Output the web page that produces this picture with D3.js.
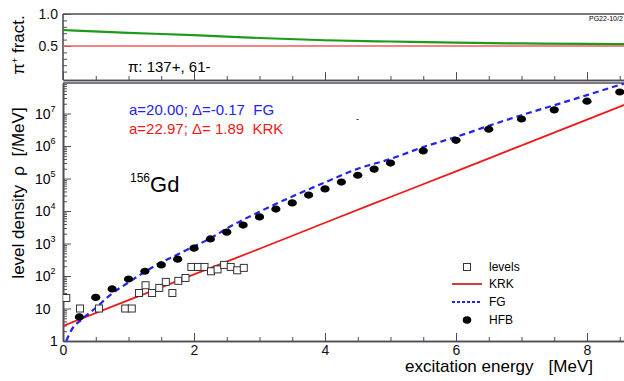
<!DOCTYPE html>
<html>
<head>
<meta charset="utf-8">
<script src="https://cdn.jsdelivr.net/npm/d3@7"></script>
<style>
  body { margin: 0; background: #fff; }
  svg { display: block; font-family: "Liberation Sans", Arial, sans-serif; }
  .axis path, .axis line { stroke: #4e4e5a; }
  .axis path { stroke-width: 1.6; }
  .axis line { stroke-width: 1; }
  .axis text { font-family: "Liberation Sans", Arial, sans-serif; fill: #111; }
</style>
</head>
<body>
<div id="chart"></div>
<script>
// top panel: pi+ fraction vs excitation energy
var fracE = [0, 1, 2, 3, 4, 5, 6, 7, 8, 9];
var fracPlus = [0.75, 0.705, 0.67, 0.625, 0.59, 0.57, 0.552, 0.54, 0.532, 0.525];
var fracHalfE = [0, 9];
var fracHalf = [0.5, 0.5];

// levels (squares)
var levelsE = [0.05, 0.26, 0.55, 0.95, 1.05, 1.16, 1.26, 1.36, 1.47, 1.57, 1.67, 1.76, 1.87,
    1.96, 2.06, 2.16, 2.26, 2.36, 2.46, 2.56, 2.66, 2.76];
var levelsRho = [21, 10, 10, 10, 10, 30, 52, 30, 43, 66, 30, 71, 87,
    190, 190, 190, 140, 160, 220, 190, 150, 178];

// HFB (dots)
var hfbE = [0.25, 0.5, 0.75, 1.0, 1.25, 1.5, 1.75, 2.0, 2.25, 2.5, 2.75, 3.0, 3.25, 3.5, 3.75,
    4.0, 4.25, 4.5, 4.75, 5.0, 5.5, 6.0, 6.5, 7.0, 7.5, 8.0, 8.5];
var hfbRho = [5.5, 22, 40, 81, 140, 220, 330, 720, 1380, 2240, 3700, 6600, 11500, 17800, 31000,
    48000, 78000, 126000, 195000, 300000, 710000, 1.5e6, 3.3e6, 6.8e6, 1.3e7, 2.4e7, 4.6e7];

// KRK (solid red)
var krkE = [0, 1, 2, 3, 4, 5, 6, 7, 8, 9];
var krkRho = [2.9, 18, 112, 690, 4350, 27000, 167000, 1.04e6, 6.5e6, 4.1e7];

// FG (dashed blue)
var fgE = [0.05, 0.13, 0.28, 0.49, 0.72, 0.98, 1.22, 1.48, 1.74, 1.99, 2.29, 2.5, 3.0, 3.5,
    4.0, 4.5, 5.0, 5.5, 6.0, 6.5, 7.0, 7.5, 8.0, 8.5, 9.0];
var fgRho = [1.0, 2.2, 4.5, 10, 26, 60, 123, 250, 450, 800, 1600, 2900, 9500, 28000,
    76000, 200000, 400000, 930000, 1.9e6, 4.2e6, 8.9e6, 1.8e7, 3.7e7, 7.6e7, 1.5e8];

var decades = [1, 10, 100, 1e3, 1e4, 1e5, 1e6, 1e7];
var xMajor = [0, 2, 4, 6, 8];

var svgWidth = 624;
var svgHeight = 381;

var svg = d3.select("#chart")
    .append("svg")
    .attr("width", svgWidth)
    .attr("height", svgHeight);

//scales (x range runs past the right edge, the picture is cut there)
var x = d3.scaleLinear().domain([0, 9]).range([63, 652.5]);
var yTop = d3.scaleLinear().domain([0, 1]).range([78, 14]);
var yLog = d3.scaleLog().domain([1, Math.pow(10, 7.94)]).range([341, 83]);

var xMinor = d3.range(0, 9.01, 0.5).filter(d => d % 2 !== 0);
var logMinor = [];
for (var p = 0; p < 8; p++) {
    for (var m = 2; m < 10; m++) {
        var v = m * Math.pow(10, p);
        if (v < Math.pow(10, 7.94)) logMinor.push(v);
    }
}

// ---------- top panel ----------
var topPanel = svg.append("g");

//frame top line
topPanel.append("line")
    .attr("x1", 63).attr("x2", svgWidth)
    .attr("y1", 14).attr("y2", 14)
    .attr("stroke", "#4e4e5a").attr("stroke-width", 1.6);

topPanel.append("g").attr("class", "axis")
    .attr("transform", "translate(0,80)")
    .call(d3.axisBottom(x).tickValues(xMinor).tickSize(-4).tickSizeOuter(0).tickFormat(""));
topPanel.append("g").attr("class", "axis")
    .attr("transform", "translate(0,80)")
    .call(d3.axisBottom(x).tickValues(xMajor).tickSize(-8).tickSizeOuter(0).tickFormat(""));

var topMinor = d3.range(0.1, 1.001, 0.1).filter(d => Math.abs(d - 0.5) > 0.01 && Math.abs(d - 1) > 0.01);
topPanel.append("g").attr("class", "axis")
    .attr("transform", "translate(63,0)")
    .call(d3.axisLeft(yTop).tickValues(topMinor).tickSize(-4).tickSizeOuter(0).tickFormat(""))
    .select(".domain").remove();
topPanel.append("g").attr("class", "axis")
    .attr("transform", "translate(63,0)")
    .call(d3.axisLeft(yTop).tickValues([0.5, 1.0]).tickSize(-8).tickSizeOuter(0)
        .tickPadding(5).tickFormat(d3.format(".1f")))
    .call(g => g.select(".domain").attr("d", "M0,80V14"))
    .selectAll("text").style("font-size", "14px");

var topLine = d3.line()
    .x(d => x(d[0]))
    .y(d => yTop(d[1]))
    .curve(d3.curveMonotoneX);

topPanel.append("path")
    .datum(d3.zip(fracHalfE, fracHalf))
    .attr("d", topLine)
    .attr("fill", "none")
    .attr("stroke", "#f25a5a")
    .attr("stroke-width", 1.6);

topPanel.append("path")
    .datum(d3.zip(fracE, fracPlus))
    .attr("d", topLine)
    .attr("fill", "none")
    .attr("stroke", "#1c9a1c")
    .attr("stroke-width", 2.2);

topPanel.append("text")
    .attr("x", 128).attr("y", 72)
    .style("font-size", "15px")
    .text("π: 137+, 61-");

topPanel.append("text")
    .attr("x", 589).attr("y", 21)
    .style("font-size", "7px")
    .text("PG22-10/2");

topPanel.append("text")
    .attr("transform", "translate(24,45) rotate(-90)")
    .attr("text-anchor", "middle")
    .style("font-size", "17px")
    .html('π<tspan dy="-6" font-size="9px">+</tspan><tspan dy="6"> fract.</tspan>');

// ---------- bottom panel ----------
var bot = svg.append("g");

bot.append("line")
    .attr("x1", 63).attr("x2", svgWidth)
    .attr("y1", 83).attr("y2", 83)
    .attr("stroke", "#4e4e5a").attr("stroke-width", 1.4);

bot.append("g").attr("class", "axis")
    .attr("transform", "translate(0,341)")
    .call(d3.axisBottom(x).tickValues(xMinor).tickSize(-4).tickSizeOuter(0).tickFormat(""));
bot.append("g").attr("class", "axis")
    .attr("transform", "translate(0,341)")
    .call(d3.axisBottom(x).tickValues(xMajor).tickSize(-8).tickSizeOuter(0).tickPadding(4).tickFormat(d3.format("d")))
    .selectAll("text").style("font-size", "14px");

bot.append("g").attr("class", "axis")
    .attr("transform", "translate(63,0)")
    .call(d3.axisLeft(yLog).tickValues(logMinor).tickSize(-4).tickSizeOuter(0).tickFormat(""));
bot.append("g").attr("class", "axis")
    .attr("transform", "translate(63,0)")
    .call(d3.axisLeft(yLog).tickValues(decades).tickSize(-8).tickSizeOuter(0).tickFormat(""));

//log tick labels with superscripts
bot.selectAll(".ylab")
    .data(decades)
    .enter()
    .append("text")
    .attr("class", "ylab")
    .attr("x", d => d === 1 ? 50 : 35)
    .attr("y", d => yLog(d) + 5)
    .style("font-size", "14px")
    .html(function(d) {
        var n = Math.round(Math.log10(d));
        if (n === 0) return "1";
        if (n === 1) return "10";
        return '10<tspan dy="-7" font-size="9px">' + n + '</tspan>';
    });

svg.append("clipPath").attr("id", "clipBot")
    .append("rect")
    .attr("x", 63).attr("y", 83)
    .attr("width", svgWidth - 63).attr("height", 341 - 83);

var plot = bot.append("g").attr("clip-path", "url(#clipBot)");

var logLine = d3.line()
    .x(d => x(d[0]))
    .y(d => yLog(d[1]))
    .curve(d3.curveMonotoneX);

plot.append("path")
    .datum(d3.zip(krkE, krkRho))
    .attr("d", logLine)
    .attr("fill", "none")
    .attr("stroke", "#f01818")
    .attr("stroke-width", 1.8);

plot.append("path")
    .datum(d3.zip(fgE, fgRho))
    .attr("d", logLine)
    .attr("fill", "none")
    .attr("stroke", "#2323f0")
    .attr("stroke-width", 2.2)
    .attr("stroke-dasharray", "6,4");

plot.selectAll(".lev")
    .data(d3.zip(levelsE, levelsRho))
    .enter()
    .append("rect")
    .attr("class", "lev")
    .attr("x", d => x(d[0]) - 3.5)
    .attr("y", d => yLog(d[1]) - 3.5)
    .attr("width", 7)
    .attr("height", 7)
    .attr("fill", "#fff")
    .attr("stroke", "#333")
    .attr("stroke-width", 1);

plot.selectAll(".hfb")
    .data(d3.zip(hfbE, hfbRho))
    .enter()
    .append("ellipse")
    .attr("class", "hfb")
    .attr("cx", d => x(d[0]))
    .attr("cy", d => yLog(d[1]))
    .attr("rx", 4.6)
    .attr("ry", 3.6)
    .attr("fill", "#000");

//annotations
bot.append("text")
    .attr("x", 129).attr("y", 115)
    .attr("fill", "#2323f0")
    .style("font-size", "15px")
    .style("white-space", "pre")
    .text("a=20.00; Δ=-0.17  FG");

bot.append("text")
    .attr("x", 129).attr("y", 134)
    .attr("fill", "#f01818")
    .style("font-size", "15px")
    .style("white-space", "pre")
    .text("a=22.97; Δ= 1.89  KRK");

bot.append("text")
    .attr("x", 130).attr("y", 192)
    .style("font-size", "22px")
    .html('<tspan font-size="12px" dy="-10">156</tspan><tspan dy="10">Gd</tspan>');

bot.append("text")
    .attr("x", 356).attr("y", 122)
    .style("font-size", "9px")
    .text("-");

//axis titles
bot.append("text")
    .attr("transform", "translate(24,193) rotate(-90)")
    .attr("text-anchor", "middle")
    .style("font-size", "17px")
    .style("white-space", "pre")
    .text("level density  ρ  [/MeV]");

bot.append("text")
    .attr("x", 405).attr("y", 372)
    .style("font-size", "17px")
    .text("excitation energy");

bot.append("text")
    .attr("x", 593).attr("y", 372)
    .attr("text-anchor", "end")
    .style("font-size", "17px")
    .text("[MeV]");

// legend
var legend = bot.append("g").style("font-size", "12px");
var legX = 489;

legend.append("rect")
    .attr("x", 463.5).attr("y", 263.5)
    .attr("width", 7).attr("height", 7)
    .attr("fill", "#fff").attr("stroke", "#333");
legend.append("text").attr("x", legX).attr("y", 271).text("levels");

legend.append("line")
    .attr("x1", 452).attr("x2", 482).attr("y1", 284).attr("y2", 284)
    .attr("stroke", "#d42424").attr("stroke-width", 1.8);
legend.append("text").attr("x", legX).attr("y", 288).text("KRK");

legend.append("line")
    .attr("x1", 452).attr("x2", 482).attr("y1", 302).attr("y2", 302)
    .attr("stroke", "#2323f0").attr("stroke-width", 1.8)
    .attr("stroke-dasharray", "3,2");
legend.append("text").attr("x", legX).attr("y", 306).text("FG");

legend.append("ellipse")
    .attr("cx", 467).attr("cy", 320)
    .attr("rx", 4.3).attr("ry", 3.8)
    .attr("fill", "#000");
legend.append("text").attr("x", legX).attr("y", 324).text("HFB");
</script>
</body>
</html>
